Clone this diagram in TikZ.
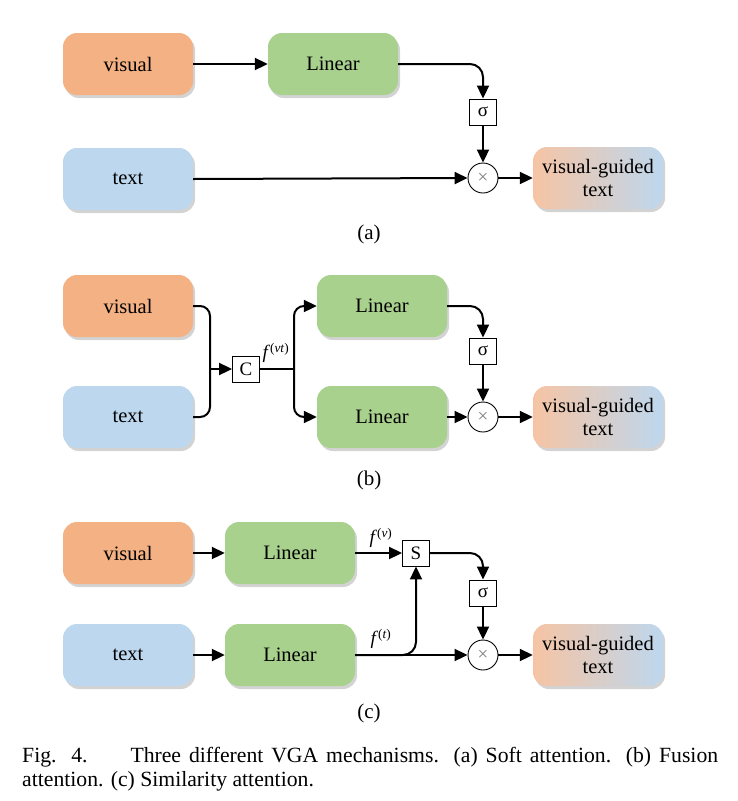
\documentclass[tikz,border=0pt]{standalone}
\usepackage{fontspec}
\setmainfont{Liberation Serif}
\usetikzlibrary{arrows.meta,shadows,calc}
\definecolor{vorange}{HTML}{F4B183}
\definecolor{tblue}{HTML}{BDD7EE}
\definecolor{lgreen}{HTML}{A9D18E}
\definecolor{gorange}{HTML}{F6C4A4}
\tikzset{
  blk/.style={minimum width=130pt, minimum height=62pt, rounded corners=14pt, inner sep=0pt,
    drop shadow={shadow xshift=2pt, shadow yshift=-3pt, opacity=0.35}, font=\fontsize{20.5}{23}\selectfont},
  visbox/.style={blk, fill=vorange},
  txtbox/.style={blk, fill=tblue},
  linbox/.style={blk, fill=lgreen},
  vgbox/.style={blk, left color=gorange, right color=tblue, align=center},
  opbox/.style={draw, line width=0.9pt, fill=white, minimum width=27pt, minimum height=26pt, inner sep=0pt, font=\fontsize{19}{21}\selectfont},
  mulnode/.style={draw, circle, line width=0.9pt, fill=white, minimum size=30pt, inner sep=0pt, text=gray, font=\fontsize{19}{21}\selectfont},
  arr/.style={line width=2pt, -{Triangle[length=13pt,width=12pt]}},
  ln/.style={line width=2pt},
  flabel/.style={font=\fontsize{19}{21}\selectfont},
  sublabel/.style={font=\fontsize{21}{24}\selectfont},
}
\begin{document}
\begin{tikzpicture}[x=1pt,y=-1pt]
\useasboundingbox (0,0) rectangle (738,801);
% ---------- (a)
\node[visbox] (va) at (128,64) {visual};
\node[linbox] (la) at (333,64) {Linear};
\node[txtbox] (ta) at (128,179) {text};
\node[opbox] (sa) at (483,112) {σ};
\node[mulnode] (ma) at (483,178) {×};
\node[vgbox] (ga) at (598,178) {visual-guided\\text};
\draw[arr] (va.east) -- (la.west);
\draw[arr, rounded corners=13pt] (la.east) -| (sa.north);
\draw[arr] (sa.south) -- (ma.north);
\draw[arr] (ta.east) -- (ma.west);
\draw[arr] (ma.east) -- (ga.west);
\node[sublabel] (capa) at (369,234) {(a)};
% ---------- (b)
\node[visbox] (vb) at (128,306) {visual};
\node[txtbox] (tb) at (128,417) {text};
\node[opbox] (cb) at (246,369) {C};
\node[linbox] (lb1) at (382,306) {Linear};
\node[linbox] (lb2) at (382,417) {Linear};
\node[opbox] (sb) at (483,351) {σ};
\node[mulnode] (mb) at (483,417) {×};
\node[vgbox] (gb) at (598,417) {visual-guided\\text};
\coordinate (jb) at (210,369);
\coordinate (kb) at (294,369);
\draw[ln, rounded corners=10pt] (vb.east) -| (jb);
\draw[ln, rounded corners=10pt] (tb.east) -| (jb);
\draw[arr] (jb) -- (cb.west);
\draw[ln] (cb.east) -- (kb);
\draw[arr, rounded corners=10pt] (kb) |- (lb1.west);
\draw[arr, rounded corners=10pt] (kb) |- (lb2.west);
\node[flabel] (fvt) at (276,353) {\textit{f}\textsuperscript{(\textit{vt})}};
\draw[arr, rounded corners=13pt] (lb1.east) -| (sb.north);
\draw[arr] (sb.south) -- (mb.north);
\draw[arr] (lb2.east) -- (mb.west);
\draw[arr] (mb.east) -- (gb.west);
\node[sublabel] (capb) at (369,480) {(b)};
% ---------- (c)
\node[visbox] (vc) at (128,553) {visual};
\node[txtbox] (tc) at (128,655) {text};
\node[linbox] (lc1) at (290,553) {Linear};
\node[linbox] (lc2) at (290,655) {Linear};
\node[opbox] (scc) at (416,553) {S};
\node[opbox] (sgc) at (483,593) {σ};
\node[mulnode] (mc) at (483,655) {×};
\node[vgbox] (gc) at (598,655) {visual-guided\\text};
\draw[arr] (vc.east) -- (lc1.west);
\draw[arr] (tc.east) -- (lc2.west);
\draw[arr] (lc1.east) -- (scc.west);
\draw[arr, rounded corners=13pt] (scc.east) -| (sgc.north);
\draw[arr] (sgc.south) -- (mc.north);
\draw[arr] (lc2.east) -- (mc.west);
\draw[arr, rounded corners=13pt] (lc2.east) -| (scc.south);
\draw[arr] (mc.east) -- (gc.west);
\node[flabel] (fv) at (381,538) {\textit{f}\textsuperscript{(\textit{v})}};
\node[flabel] (ft) at (381,639) {\textit{f}\textsuperscript{(\textit{t})}};
\node[sublabel] (capc) at (369,713) {(c)};
% ---------- caption
\node[anchor=north west, inner sep=0pt, text width=696pt, align=justify,
  font=\fontsize{21.7}{24.5}\selectfont] (cap) at (22,747)
  {Fig. 4.\hspace{1.3em} Three different VGA mechanisms. (a) Soft attention. (b) Fusion\linebreak attention. (c) Similarity attention.};
\end{tikzpicture}
\end{document}
